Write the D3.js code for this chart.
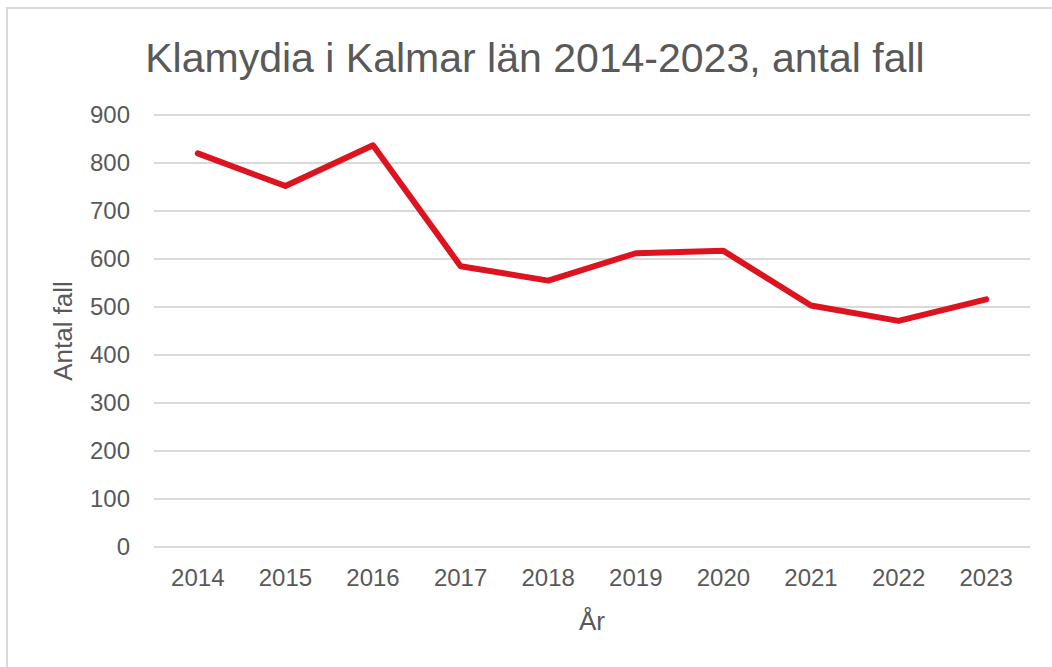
<!DOCTYPE html>
<html>
<head>
<meta charset="utf-8">
<script src="https://cdn.jsdelivr.net/npm/d3@7"></script>
<style>
  body { margin: 0; background: #fff; }
  text { font-family: "Liberation Sans", Arial, sans-serif; fill: #595959; }
</style>
</head>
<body>
<div class="chart"></div>
<script>
// data
const years = ["2014", "2015", "2016", "2017", "2018", "2019", "2020", "2021", "2022", "2023"]
const cases = [820, 752, 837, 585, 555, 612, 617, 503, 471, 516]
const yTicks = [0, 100, 200, 300, 400, 500, 600, 700, 800, 900]

const W = 1052, H = 667
const margin = {left: 154, top: 115, right: 22, bottom: 120}
const w = W - margin.left - margin.right
const h = H - margin.top - margin.bottom

const svg = d3.select(".chart").append("svg")
  .attr("width", W)
  .attr("height", H)

// chart frame (only left and top edges are visible in the crop)
svg.append("path")
  .attr("d", `M7,${H} L7,8 L${W},8`)
  .attr("fill", "none")
  .attr("stroke", "#d9d9d9")
  .attr("stroke-width", 2)

const g = svg.append("g")
  .attr("transform", `translate(${margin.left},${margin.top})`)

const x = d3.scaleBand().domain(years).range([0, w])
const y = d3.scaleLinear().domain([0, 900]).range([h, 0])

// gridlines
g.selectAll(".grid").data(yTicks).join("line")
  .attr("class", "grid")
  .attr("x1", 0).attr("x2", w)
  .attr("y1", d => y(d)).attr("y2", d => y(d))
  .attr("stroke", "#d9d9d9")
  .attr("stroke-width", 2)

// y axis labels
const yAxis = g.append("g")
  .call(d3.axisLeft(y).tickValues(yTicks).tickSize(0).tickPadding(24))
yAxis.select(".domain").remove()
yAxis.selectAll("text")
  .style("font-size", "24px")
  .attr("fill", "#595959")

// x axis labels
const xAxis = g.append("g")
  .attr("transform", `translate(0,${h})`)
  .call(d3.axisBottom(x).tickSize(0).tickPadding(22))
xAxis.select(".domain").remove()
xAxis.selectAll("text")
  .style("font-size", "24px")
  .attr("fill", "#595959")

// the line
const line = d3.line()
  .x((d, i) => x(years[i]) + x.bandwidth() / 2)
  .y(d => y(d))

g.append("path")
  .datum(cases)
  .attr("d", line)
  .attr("fill", "none")
  .attr("stroke", "#dd1420")
  .attr("stroke-width", 6)
  .attr("stroke-linejoin", "round")
  .attr("stroke-linecap", "round")

// titles
svg.append("text")
  .attr("x", 535)
  .attr("y", 72)
  .attr("text-anchor", "middle")
  .style("font-size", "41px")
  .text("Klamydia i Kalmar län 2014-2023, antal fall")

svg.append("text")
  .attr("x", margin.left + w / 2)
  .attr("y", 630)
  .attr("text-anchor", "middle")
  .style("font-size", "26px")
  .text("År")

svg.append("text")
  .attr("transform", `translate(72,${margin.top + h / 2}) rotate(-90)`)
  .attr("text-anchor", "middle")
  .style("font-size", "26px")
  .text("Antal fall")
</script>
</body>
</html>
